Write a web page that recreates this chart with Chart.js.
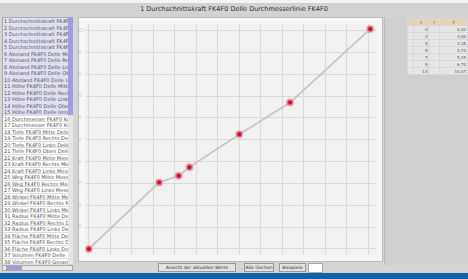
<!DOCTYPE html>
<html>
<head>
<meta charset="utf-8">
<script src="https://cdn.jsdelivr.net/npm/chart.js@4"></script>
<style>
  body { margin:0; width:468px; height:279px; overflow:hidden; background:#d4d4d4; font-family:"DejaVu Sans", Arial, sans-serif; position:relative; }
  #titlebar { position:absolute; left:0; top:3px; width:468px; height:13px; background:#d2d2d2; text-align:center; font-size:6.5px; line-height:13px; color:#333; }
  #top { position:absolute; left:0; top:0; width:468px; height:3px; background:#f4f4f4; }
  #list { position:absolute; left:2px; top:17px; width:66px; height:247px; background:#fff; border:1px solid #aaa; overflow:hidden; }
  #list div { height:6.5px; font-size:5px; line-height:6.5px; white-space:nowrap; color:#555; border-bottom:1px solid #ddd; box-sizing:border-box; padding-left:1px; }
  #list div.sel { background:#e0e0f6; }
  #sbar { position:absolute; left:68px; top:17px; width:5px; height:247px; background:#e6e6e6; }
  #thumb { position:absolute; left:68px; top:17px; width:5px; height:98px; background:#a09ee0; }
  #hscroll { position:absolute; left:2px; top:265px; width:71px; height:6px; background:#e8e8e8; border:1px solid #aaa; box-sizing:border-box; }
  #hthumb { position:absolute; left:6px; top:266px; width:16px; height:4px; background:#a09ee0; }
  #chartbox { position:absolute; left:78px; top:17px; width:305px; height:245px; background:#f6f6f6; border:1px solid #bbb; box-sizing:border-box; }
  #right { position:absolute; left:384px; top:17px; width:84px; height:248px; background:#cfcfcf; border-left:1px solid #bbb; }
  #tbl { position:absolute; left:407px; top:18px; width:61px; border-collapse:collapse; font-size:4px; }
  #tbl td { height:6px; padding:0 1px; border:1px solid #d8d8d8; background:#e6e6e6; text-align:right; color:#555; }
  #tbl tr.h td { background:#e4d4b4; color:#876; text-align:center; }
  .btn { position:absolute; top:263px; height:9px; background:#e2e2e2; border:1px solid #999; box-sizing:border-box; font-size:4.5px; line-height:8px; text-align:center; color:#333; }
  #input { position:absolute; left:308px; top:263px; width:13px; height:8px; background:#fff; border:1px solid #aaa; }
  #bluebar { position:absolute; left:0; top:273px; width:468px; height:6px; background:#1461a8; }
</style>
</head>
<body>
<div id="top"></div>
<div id="titlebar">1 Durchschnittskraft FK4F0 Delle Durchmesserlinie FK4F0</div>
<div id="list"></div>
<div id="sbar"></div><div id="thumb"></div>
<div id="hscroll"></div><div id="hthumb"></div>
<div id="chartbox"><canvas id="c" width="303" height="243"></canvas></div>
<div id="right"></div>
<table id="tbl"></table>
<div class="btn" style="left:158px;width:78px;">Ansicht der aktuellen Werte zurück</div>
<div class="btn" style="left:244px;width:30px;">Alle löschen</div>
<div class="btn" style="left:279px;width:27px;">Beispiele</div>
<div id="input"></div>
<div id="bluebar"></div>
<script>
// plotted points
const xValues = [0, 3.27, 4.18, 4.68, 7.0, 9.36, 13.09];
const yValues = [0, 30.4, 33.5, 37.4, 52.5, 67.0, 100.7];
const xTicks = [0,1,2,3,4,5,6,7,8,9,10,11,12,13];
const yTicks = [0,10,20,30,40,50,60,70,80,90,100];

// side panels
const listItems = [
  '1 Durchschnittskraft FK4F0 Delle','2 Durchschnittskraft FK4F0 Delle','3 Durchschnittskraft FK4F0 Links',
  '4 Durchschnittskraft FK4F0 Linsen','5 Durchschnittskraft FK4F0 Oben','6 Abstand FK4F0 Delle Mitte',
  '7 Abstand FK4F0 Delle Rechts','8 Abstand FK4F0 Delle Links','9 Abstand FK4F0 Delle Oben',
  '10 Abstand FK4F0 Delle Unten','11 Höhe FK4F0 Delle Mitte','12 Höhe FK4F0 Delle Rechts',
  '13 Höhe FK4F0 Delle Links','14 Höhe FK4F0 Delle Oben','15 Höhe FK4F0 Delle Unten',
  '16 Durchmesser FK4F0 Kreis 1','17 Durchmesser FK4F0 Kreis 2','18 Tiefe FK4F0 Mitte Delle',
  '19 Tiefe FK4F0 Rechts Delle','20 Tiefe FK4F0 Links Delle','21 Tiefe FK4F0 Oben Delle',
  '22 Kraft FK4F0 Mitte Messung','23 Kraft FK4F0 Rechts Messung','24 Kraft FK4F0 Links Messung',
  '25 Weg FK4F0 Mitte Messung','26 Weg FK4F0 Rechts Messung','27 Weg FK4F0 Links Messung',
  '28 Winkel FK4F0 Mitte Messung','29 Winkel FK4F0 Rechts Messung','30 Winkel FK4F0 Links Messung',
  '31 Radius FK4F0 Mitte Delle','32 Radius FK4F0 Rechts Delle','33 Radius FK4F0 Links Delle',
  '34 Fläche FK4F0 Mitte Delle','35 Fläche FK4F0 Rechts Delle','36 Fläche FK4F0 Links Delle',
  '37 Volumen FK4F0 Delle','38 Volumen FK4F0 Gesamt'
];
const tableHeader = ['', 'X', 'Y', 'Z'];
const tableRows = [
  ['', '0', '', '0,00'],
  ['', '3', '', '3,00'],
  ['', '4', '', '3,35'],
  ['', '5', '', '3,74'],
  ['', '7', '', '5,25'],
  ['', '9', '', '6,70'],
  ['', '13', '', '10,07']
];

const list = document.getElementById('list');
listItems.forEach((t, i) => {
  const d = document.createElement('div');
  d.textContent = t;
  if (i < 15) d.className = 'sel';
  list.appendChild(d);
});
const tbl = document.getElementById('tbl');
const hr = tbl.insertRow(); hr.className = 'h';
tableHeader.forEach(h => { hr.insertCell().textContent = h; });
tableRows.forEach(r => { const tr = tbl.insertRow(); r.forEach(v => { tr.insertCell().textContent = v; }); });

const plotBg = {
  id: 'plotBg',
  beforeDraw(chart) {
    const a = chart.chartArea, ctx = chart.ctx;
    ctx.save();
    ctx.fillStyle = '#f1f1f1';
    ctx.fillRect(a.left, a.top, a.right - a.left, a.bottom - a.top);
    ctx.restore();
  }
};

new Chart(document.getElementById('c'), {
  type: 'line',
  plugins: [plotBg],
  data: {
    datasets: [{
      data: xValues.map((x, i) => ({ x, y: yValues[i] })),
      borderColor: '#c2c2c2',
      borderWidth: 1.5,
      pointRadius: 3,
      pointBackgroundColor: '#c01030',
      pointBorderColor: 'rgba(238,150,165,0.75)',
      pointBorderWidth: 2,
      tension: 0
    }]
  },
  options: {
    responsive: false,
    animation: false,
    layout: { padding: { left: 3, right: 2, top: 1, bottom: 3 } },
    plugins: { legend: { display: false }, tooltip: { enabled: false } },
    scales: {
      x: {
        type: 'linear', min: -0.18, max: 13.36,
        afterBuildTicks: s => { s.ticks = xTicks.map(v => ({ value: v })); },
        ticks: { display: false },
        grid: { color: '#dadada', drawTicks: false },
        border: { display: false }
      },
      y: {
        type: 'linear', min: -2.8, max: 103,
        afterBuildTicks: s => { s.ticks = yTicks.map(v => ({ value: v })); },
        ticks: { mirror: true, color: '#cacaca', font: { size: 5 }, padding: -3 },
        grid: { color: '#dadada', drawTicks: false },
        border: { display: false }
      }
    }
  }
});
</script>
</body>
</html>
